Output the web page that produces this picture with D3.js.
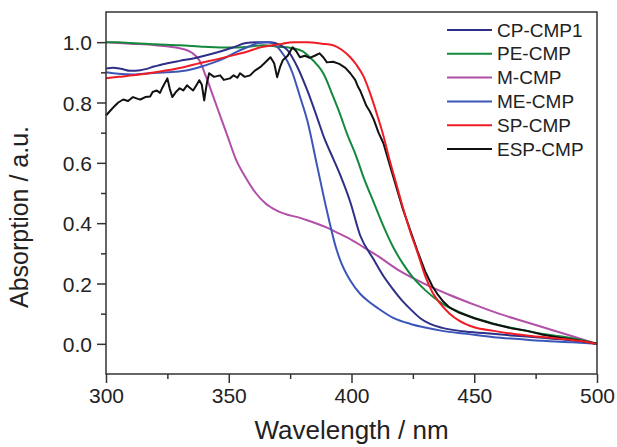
<!DOCTYPE html>
<html>
<head>
<meta charset="utf-8">
<script src="https://cdn.jsdelivr.net/npm/d3@7"></script>
<style>
  body { margin: 0; background: #fff; }
  text { font-family: "Liberation Sans", Arial, sans-serif; fill: #222; }
</style>
</head>
<body>
<svg id="chart" width="617" height="447"></svg>
<script>
// absorption spectra, [wavelength nm, normalised absorption]
var cpCmp1 = [[300,0.913],[303,0.915],[306,0.912],[310,0.905],[314,0.907],[320,0.92],[325,0.93],[330,0.938],[336,0.947],[344,0.963],[352,0.983],[357,0.997],[362,1.0],[367,1.0],[371,0.99],[374,0.973],[378,0.917],[382,0.84],[386,0.75],[389,0.68],[392.5,0.615],[395.4,0.56],[399.5,0.47],[403.5,0.36],[409,0.28],[413,0.225],[417,0.18],[421,0.14],[424,0.115],[428,0.085],[432,0.066],[437,0.053],[445,0.042],[455,0.035],[465,0.028],[475,0.022],[485,0.015],[495,0.006],[500,0.0]];
var peCmp = [[300,1.0],[305,1.0],[310,0.997],[320,0.993],[330,0.99],[340,0.985],[350,0.982],[358,0.985],[364,0.99],[370,0.985],[376,0.98],[380,0.97],[383,0.95],[386,0.925],[388.5,0.897],[392.5,0.82],[395.4,0.76],[398,0.70],[402,0.62],[405,0.55],[409,0.47],[413,0.39],[417,0.32],[421,0.265],[425,0.22],[430,0.178],[437,0.133],[444,0.105],[451,0.083],[458,0.067],[465,0.053],[472,0.042],[478,0.033],[485,0.025],[492,0.015],[500,0.0]];
var mCmp = [[300,1.0],[310,0.995],[320,0.99],[330,0.98],[335,0.965],[338,0.94],[341,0.88],[345,0.79],[349,0.70],[353,0.61],[357,0.55],[361,0.50],[365,0.465],[370,0.44],[380,0.415],[390,0.385],[395,0.365],[400,0.345],[405,0.32],[410,0.295],[420,0.24],[430,0.198],[440,0.162],[450,0.13],[460,0.10],[470,0.075],[480,0.05],[490,0.025],[500,0.0]];
var meCmp = [[300,0.90],[305,0.895],[311,0.893],[318,0.897],[325,0.90],[332,0.905],[338,0.917],[344,0.933],[349,0.95],[353,0.967],[357.5,0.983],[362,0.997],[366,1.0],[369,0.99],[371,0.973],[374,0.935],[376,0.897],[379,0.82],[382,0.74],[386,0.59],[390,0.44],[394,0.31],[396,0.265],[399.5,0.21],[403.5,0.166],[407,0.14],[410.4,0.12],[417,0.086],[424,0.066],[430,0.054],[437,0.043],[447,0.033],[458,0.022],[468,0.016],[478,0.01],[490,0.005],[500,0.0]];
var spCmp = [[300,0.88],[305,0.885],[311,0.89],[318,0.898],[325,0.907],[332,0.918],[338,0.93],[345,0.943],[352,0.957],[358,0.97],[363,0.983],[368,0.99],[372,0.995],[376,1.0],[382,1.0],[388,0.995],[392.5,0.99],[396,0.975],[399.5,0.95],[402,0.925],[405,0.885],[407.6,0.83],[410.4,0.76],[413,0.69],[415.5,0.61],[418.6,0.52],[421,0.45],[424,0.37],[427,0.30],[430,0.225],[433,0.17],[436,0.135],[440,0.10],[444,0.076],[450,0.055],[458,0.043],[465,0.034],[472,0.027],[485,0.017],[495,0.007],[500,0.0]];
var espCmp = [[300,0.757],[302,0.775],[303,0.784],[305,0.80],[307,0.81],[309,0.805],[311,0.818],[313,0.812],[314,0.81],[316,0.818],[318,0.82],[319,0.835],[320.7,0.84],[322,0.832],[323,0.85],[325,0.88],[326,0.845],[327,0.818],[328.5,0.835],[330,0.847],[331.5,0.84],[333,0.857],[334,0.85],[335.5,0.84],[337,0.86],[338,0.874],[339,0.86],[340,0.807],[341,0.86],[342,0.897],[344,0.885],[346.5,0.89],[348,0.875],[350.5,0.88],[352,0.89],[353.5,0.882],[354.6,0.897],[356.5,0.885],[358.7,0.89],[360.5,0.905],[362.8,0.917],[364.5,0.93],[367,0.95],[368.5,0.93],[369.7,0.884],[371,0.92],[372,0.94],[374,0.955],[376,0.983],[377.5,0.97],[379,0.95],[381,0.955],[383,0.948],[385,0.955],[387,0.963],[388.5,0.95],[390,0.933],[392.5,0.935],[395,0.928],[397.5,0.915],[399.5,0.897],[401.5,0.875],[402.5,0.855],[403.5,0.84],[405,0.81],[406,0.79],[407.5,0.77],[409,0.745],[411,0.70],[413,0.665],[415.5,0.595],[418.6,0.51],[421,0.445],[424,0.375],[427,0.305],[430,0.24],[433,0.19],[435,0.165],[437.4,0.14],[440,0.12],[444,0.103],[450,0.085],[457.8,0.066],[465,0.052],[471.6,0.043],[478,0.03],[485,0.02],[492,0.012],[500,0.0]];

var names = ["CP-CMP1", "PE-CMP", "M-CMP", "ME-CMP", "SP-CMP", "ESP-CMP"];
var xTicks = [300, 350, 400, 450, 500];
var yTicks = [0.0, 0.2, 0.4, 0.6, 0.8, 1.0];

var series = [cpCmp1, peCmp, mCmp, meCmp, spCmp, espCmp];
var colors = ["#2e2f86", "#14893c", "#b24fa8", "#3b56b8", "#ee1c24", "#111111"];
// draw order: background lines first, red and black on top like the original
var drawOrder = [2, 1, 0, 3, 5, 4];

var margin = {left: 106, right: 20, top: 12, bottom: 73};
var width = 617 - margin.left - margin.right;
var height = 447 - margin.top - margin.bottom;

var svg = d3.select("#chart");
var g = svg.append("g").attr("transform", "translate(" + margin.left + "," + margin.top + ")");

var x = d3.scaleLinear().domain([300, 500]).range([0, width]);
var y = d3.scaleLinear().domain([-0.1, 1.1]).range([height, 0]);

// axes
var xAxis = g.append("g").attr("transform", "translate(0," + height + ")")
  .call(d3.axisBottom(x).tickValues(xTicks).tickSize(9).tickPadding(5).tickFormat(d3.format("d")));
g.append("g").attr("transform", "translate(0," + height + ")")
  .call(d3.axisBottom(x).tickValues([325, 375, 425, 475]).tickSize(5).tickFormat(""));
var yAxis = g.append("g")
  .call(d3.axisLeft(y).tickValues(yTicks).tickSize(9).tickPadding(5).tickFormat(d3.format(".1f")));
g.append("g")
  .call(d3.axisLeft(y).tickValues([0.1, 0.3, 0.5, 0.7, 0.9]).tickSize(5).tickFormat(""));

g.selectAll(".domain").remove();
g.selectAll(".tick line").attr("stroke", "#333").attr("stroke-width", 1.5);
xAxis.selectAll("text").attr("font-size", 21).style("fill", "#222");
yAxis.selectAll("text").attr("font-size", 21).attr("dy", "0.36em").style("fill", "#222");

// curves
var line = d3.line()
  .x(function (d) { return x(d[0]); })
  .y(function (d) { return y(d[1]); })
  .curve(d3.curveMonotoneX);

drawOrder.forEach(function (i) {
  g.append("path")
    .datum(series[i])
    .attr("fill", "none")
    .attr("stroke", colors[i])
    .attr("stroke-width", 2)
    .attr("stroke-linejoin", "round")
    .attr("d", i === 5 ? line.curve(d3.curveLinear)(series[i]) : line.curve(d3.curveMonotoneX)(series[i]));
});

// frame
g.append("rect")
  .attr("width", width).attr("height", height)
  .attr("fill", "none").attr("stroke", "#333").attr("stroke-width", 1.5);

// legend
var legend = g.append("g").attr("transform", "translate(" + (447 - margin.left) + "," + (30 - margin.top) + ")");
names.forEach(function (name, i) {
  var row = legend.append("g").attr("transform", "translate(0," + (i * 23.8) + ")");
  row.append("line").attr("x1", 0).attr("x2", 45)
    .attr("stroke", colors[i]).attr("stroke-width", 2);
  row.append("text").attr("x", 50).attr("y", 0).attr("dy", "0.35em")
    .attr("font-size", 19).text(name);
});

// axis titles
svg.append("text")
  .attr("x", margin.left + width / 2).attr("y", 439)
  .attr("text-anchor", "middle").attr("font-size", 26)
  .text("Wavelength / nm");
svg.append("text")
  .attr("transform", "translate(28,217) rotate(-90)")
  .attr("text-anchor", "middle").attr("font-size", 25)
  .text("Absorption / a.u.");
</script>
</body>
</html>
